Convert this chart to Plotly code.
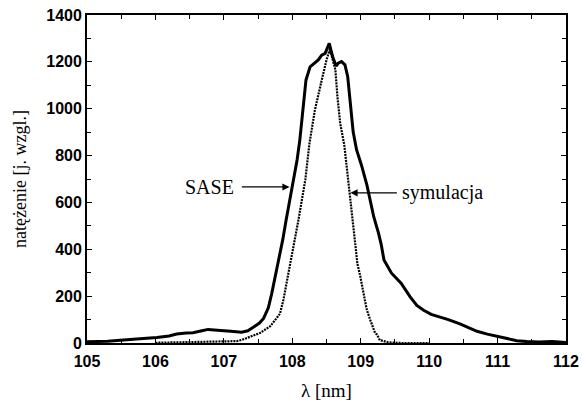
import plotly.graph_objects as go

# Measured SASE spectrum (thick line)
sase_wl = [105.00, 105.30, 105.58, 106.02, 106.20, 106.31, 106.45, 106.55, 106.68, 106.77,
           106.86, 106.94, 107.10, 107.26, 107.35, 107.43, 107.52, 107.58, 107.65, 107.70,
           107.77, 107.82, 107.86, 107.91, 107.99, 108.07, 108.11, 108.15, 108.20, 108.26,
           108.30, 108.38, 108.43, 108.48, 108.54, 108.59, 108.64, 108.67, 108.72, 108.77,
           108.81, 108.84, 108.89, 108.94, 109.01, 109.09, 109.14, 109.19, 109.26, 109.30,
           109.34, 109.40, 109.45, 109.59, 109.72, 109.82, 109.92, 110.03, 110.15, 110.28,
           110.45, 110.58, 110.70, 110.85, 110.98, 111.14, 111.28, 111.43, 111.60, 111.80,
           111.95, 112.00]
sase_int = [5, 8, 14, 23, 30, 38, 43, 44, 52, 58,
            56, 53, 50, 46, 52, 67, 85, 105, 150, 212,
            312, 370, 440, 525, 653, 781, 866, 994, 1122, 1179,
            1190, 1208, 1229, 1236, 1279, 1222, 1182, 1194, 1201, 1187,
            1137, 1051, 900, 824, 760, 675, 610, 539, 469, 420,
            354, 320, 298, 255, 198, 160, 140, 122, 112, 100,
            82, 65, 50, 38, 30, 20, 10, 6, 4, 6,
            3, 2]

# Simulated spectrum (dotted line)
sim_wl = [106.00, 106.94, 107.19, 107.26, 107.48, 107.53, 107.68, 107.75, 107.82, 107.87,
          107.94, 107.99, 108.09, 108.19, 108.25, 108.33, 108.43, 108.50, 108.55, 108.60,
          108.63, 108.66, 108.70, 108.76, 108.82, 108.88, 108.93, 108.95, 108.99, 109.06,
          109.09, 109.14, 109.21, 109.24, 109.28, 109.40, 109.60, 110.00]
sim_int = [1, 4, 8, 13, 36, 43, 72, 98, 125, 184,
           300, 370, 525, 696, 850, 994, 1122, 1208, 1255, 1200,
           1165, 1051, 938, 845, 696, 525, 397, 340, 290, 184,
           141, 98, 43, 35, 12, 3, 0, 0]

x_ticks = [105, 106, 107, 108, 109, 110, 111, 112]
y_ticks = [0, 200, 400, 600, 800, 1000, 1200, 1400]

fig = go.Figure()
fig.add_trace(go.Scatter(x=sim_wl, y=sim_int, mode="lines",
                         line=dict(color="black", width=2.2, dash="2px,1px")))
fig.add_trace(go.Scatter(x=sase_wl, y=sase_int, mode="lines",
                         line=dict(color="black", width=3)))

serif = "Liberation Serif"
tick_font = dict(family="Liberation Sans", size=16, color="black", weight="bold")

fig.update_xaxes(range=[105, 112], tickvals=x_ticks, ticks="inside", ticklen=5,
                 tickwidth=1.2, tickcolor="black", showline=True, linecolor="black",
                 linewidth=1.8, mirror="allticks", showgrid=False, zeroline=False,
                 tickfont=tick_font, automargin=False, ticklabelstandoff=3,
                 minor=dict(dtick=0.5, ticks="inside", ticklen=4, tickcolor="black", showgrid=False),
                 title=dict(text="λ [nm]", font=dict(family=serif, size=19, color="black")))
fig.update_yaxes(range=[0, 1400], tickvals=y_ticks, ticks="inside", ticklen=5,
                 tickwidth=1.2, tickcolor="black", showline=True, linecolor="black",
                 linewidth=1.8, mirror="allticks", showgrid=False, zeroline=False,
                 tickfont=tick_font, automargin=False,
                 minor=dict(dtick=100, ticks="inside", ticklen=4, tickcolor="black", showgrid=False),
                 title=dict(text="natężenie [j. wzgl.]",
                            font=dict(family=serif, size=18, color="black")))

# Curve labels with arrows
fig.add_annotation(x=107.18, y=666, text="SASE", showarrow=False, xanchor="right",
                   yanchor="middle", font=dict(family=serif, size=20, color="black"))
fig.add_annotation(x=107.96, y=666, ax=107.24, ay=666, axref="x", ayref="y",
                   text="", showarrow=True, arrowhead=2, arrowsize=1.1, arrowwidth=1.3,
                   arrowcolor="black")
fig.add_annotation(x=109.57, y=641, text="symulacja", showarrow=False, xanchor="left",
                   yanchor="middle", font=dict(family=serif, size=20, color="black"))
fig.add_annotation(x=108.85, y=641, ax=109.55, ay=641, axref="x", ayref="y",
                   text="", showarrow=True, arrowhead=2, arrowsize=1.1, arrowwidth=1.3,
                   arrowcolor="black")

fig.update_layout(width=582, height=404, showlegend=False,
                  margin=dict(l=87, r=16, t=15, b=61),
                  paper_bgcolor="white", plot_bgcolor="white")

fig.write_html("out.html")
